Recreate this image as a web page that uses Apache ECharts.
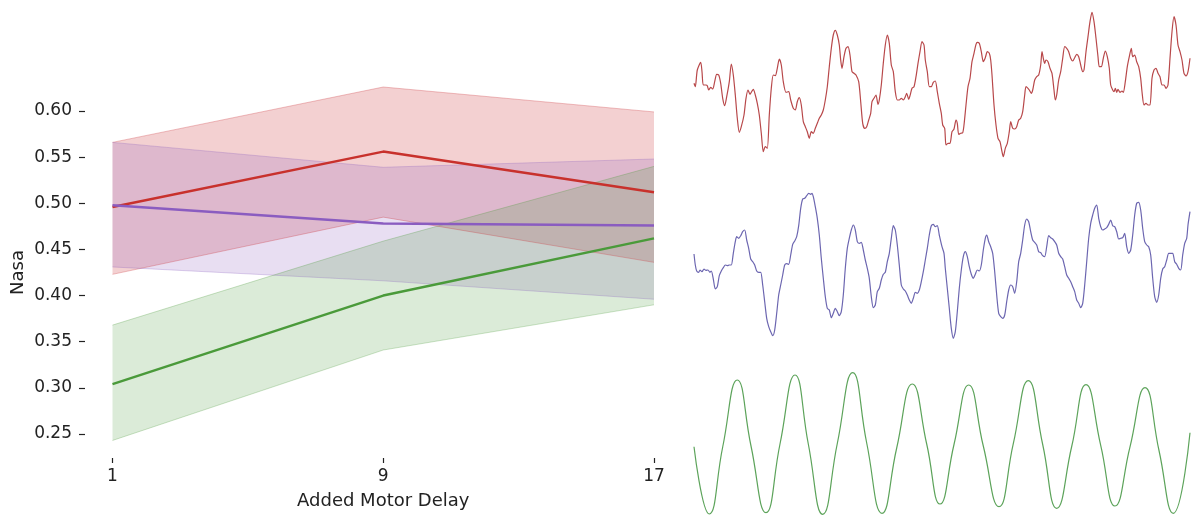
<!DOCTYPE html>
<html>
<head>
<meta charset="utf-8">
<script src="https://cdn.jsdelivr.net/npm/echarts@6.0.0/dist/echarts.min.js"></script>
<style>
html,body{margin:0;padding:0;background:#fff;}
#chart{width:1194px;height:515px;}
</style>
</head>
<body>
<div id="chart"></div>
<script>
// ---- Left panel: Nasa vs Added Motor Delay ----
const delays = ['1', '9', '17'];
const yTicks = [0.25, 0.30, 0.35, 0.40, 0.45, 0.50, 0.55, 0.60];

const redMean = [0.496, 0.556, 0.512];
const redLow = [0.423, 0.485, 0.436];
const redHigh = [0.566, 0.626, 0.599];

const purpleMean = [0.498, 0.478, 0.476];
const purpleLow = [0.431, 0.416, 0.396];
const purpleHigh = [0.566, 0.539, 0.548];

const greenMean = [0.304, 0.400, 0.462];
const greenLow = [0.243, 0.341, 0.390];
const greenHigh = [0.368, 0.459, 0.540];

// ---- Right panel: example traces [sample, amplitude] ----
const redTrace = [[0,-0.3],[1.3,-3.7],[3.3,13],[6.7,20.7],[8,11.3],[9.3,-2],[12,-2],[13.3,-2.7],[14.7,-7],[16.7,-4.3],[18.7,-6],[20.7,1.3],[22.7,8.7],[24.7,8],[26.7,-0.3],[28.7,-15.3],[30.7,-22.7],[32.7,-13.7],[35.3,1.3],[37.3,19],[39.3,8],[41.3,-12],[43.3,-35.3],[45.3,-49.3],[47.3,-43.7],[50,-32],[52,-15.3],[54,-7],[56,-11.3],[58,-8],[59.3,-6.3],[61.3,-12],[63.3,-20.3],[65.3,-32],[67.3,-50.3],[69.3,-68.7],[71.3,-63.7],[73.3,-65.3],[75.3,-32],[77.3,-5.3],[79.3,8],[81.3,7.3],[83.3,14.7],[85.3,24],[87.3,18],[89.3,1.3],[92,-9.3],[94.7,-8.7],[96.7,-17],[99.3,-25.3],[101.3,-27],[103.3,-18.7],[105.3,-14.7],[107.3,-22],[109.3,-38.7],[111.3,-43.7],[113.3,-48.7],[115.3,-55.3],[117.3,-48.7],[119.3,-50.3],[121.3,-45.3],[123.3,-40.3],[125.3,-35.3],[127.3,-32],[129.3,-27],[131.3,-17],[133.3,-3.7],[135.3,16.3],[137.3,34.7],[139.3,48],[141.3,52.7],[143.3,48],[145.3,38],[146.7,23],[148,14.7],[150,26.3],[152,34.7],[154,36.3],[156,28],[158,11.3],[160,9.7],[162,8],[164.7,1.3],[166.7,-18.7],[168.7,-40.3],[170.7,-45.3],[172.7,-43.7],[174.7,-37],[176.7,-30.3],[178,-18.7],[180,-15.3],[182,-12],[184,-21.3],[185.3,-17],[187.3,-2],[189.3,19.7],[191.3,38],[193.3,48],[195.3,39.7],[197.3,18],[199.3,11.3],[201.3,-8.7],[203.3,-17],[205.3,-17],[207.3,-15.3],[209.3,-17],[211.3,-13.7],[212.7,-10.3],[214.7,-16.3],[216,-12.7],[218,-5.3],[220,-3.7],[222,6.3],[224,19.7],[226,31.3],[228,41.3],[230,38],[231.3,23],[233.3,11.3],[235.3,-3.7],[237.3,-3.7],[239.3,0.7],[241.3,2],[243.3,-8.7],[245.3,-20.3],[247.3,-30.3],[248.7,-42],[250.7,-45.3],[252,-62],[254,-60.3],[256,-60.3],[258,-48.7],[260,-46],[262,-37],[263.3,-40.3],[264.7,-51.3],[266.7,-50.3],[268.7,-49.7],[270,-42],[272,-22],[274,-3.7],[276,4.7],[278,21.3],[280,29.7],[282,38.7],[283.3,40.7],[285.3,39.7],[287.3,31.3],[289.3,21.3],[291.3,25.3],[293.3,31.3],[295.3,29.7],[296.7,23],[298,8],[300,-22],[302,-42],[304,-55.3],[306,-58.7],[308,-68.7],[309.3,-73.7],[311.3,-65.3],[313.3,-60.3],[315.3,-48.7],[316.7,-38.7],[318.7,-45.3],[320.7,-46],[322.7,-43.7],[324.7,-37],[326.7,-35.3],[328.7,-28.7],[330.7,-12],[332,-3.7],[334,-5.3],[335.3,-7],[337.3,-10.3],[338.7,-7],[340.7,3],[342.7,6.3],[344.7,8],[346.7,18],[348,31.3],[349.3,24.7],[350.7,19.7],[352,23],[354,21.3],[356,14.7],[358,9.7],[360,-7],[361.3,-17],[362.7,-12],[364.7,3],[366.7,11.3],[368.7,24.7],[370.7,36.3],[372.7,34.7],[374.7,31.3],[376.7,24.7],[378.7,22],[380.7,25.3],[382.7,28.7],[384.7,26.3],[386.7,18],[388.7,11.3],[390,13],[392,31.3],[394,46.3],[396,61.3],[398,70.7],[400,61.3],[402,44.7],[404,26.3],[405.3,16.3],[407.3,16.3],[409.3,24.7],[411.3,32],[413.3,26.3],[415.3,14.7],[416.7,-2],[418.7,-7],[420,-8.7],[421.3,-5.3],[422.7,-9.3],[424,-6.3],[426,-9.3],[428,-8],[429.3,-9.3],[431.3,1.3],[433.3,16.3],[435.3,26.3],[437.3,34.7],[438.7,26.3],[440.7,28],[442.7,21.3],[444.7,16.3],[446.7,4.7],[448,-8.7],[450,-22],[452,-20.3],[454,-22],[456,-22],[458,4.7],[460,13],[462,14.7],[464,9.7],[466,6.3],[468,-2],[470,-2],[472,-5.3],[474,-2],[476,24.7],[478,51.3],[480,66.3],[482,58],[484,38],[486,31.3],[488,23],[490,9.7],[492,7],[494,11.3],[496,24.7]];

const purpleTrace = [[0,11],[1.3,0],[2.7,-6],[4.7,-7.3],[6,-5],[8,-6.7],[10,-4],[12,-5.3],[14,-5],[16,-7.3],[17.3,-6],[19.3,-14],[21.3,-24],[23.3,-21.7],[25.3,-10.7],[27.3,-6],[29.3,-2.7],[31.3,0],[33.3,-0.7],[35.3,0],[37.3,0],[39.3,11.7],[41.3,23.3],[42.7,28.3],[44.7,26.7],[46.7,29.3],[48.7,33.3],[50.7,35],[52.7,25],[54.7,16.7],[56.7,6],[58.7,3.3],[60.7,0],[62.7,-6],[64.7,-7.3],[66.7,-7.3],[68.7,-20],[70.7,-36.7],[72.7,-53.3],[74.7,-61.7],[76.7,-66.7],[78.7,-70.7],[80.7,-65],[82.7,-48.3],[84.7,-30],[86.7,-20],[88.7,-10],[90.7,0],[92.7,1.3],[94.7,0.7],[96.7,10],[98.7,20.7],[100.7,24],[102.7,28.3],[104.7,39.3],[106.7,56.7],[108.7,66],[110.7,66.7],[112.7,69.3],[114.7,71.7],[116.7,70.7],[118,71.7],[119.3,68.3],[121.3,58.3],[123.3,46.7],[125.3,30],[127.3,6.7],[129.3,-13.3],[131.3,-31.7],[133.3,-43.3],[135.3,-45],[137.3,-52.7],[139.3,-48.3],[141.3,-43.3],[143.3,-46.7],[145.3,-50.7],[147.3,-46.7],[149.3,-30],[151.3,-3.3],[153.3,16.7],[155.3,26.7],[157.3,35],[159.3,40],[161.3,35],[163.3,23.3],[165.3,21.7],[167.3,22.7],[169.3,15],[171.3,5],[173.3,-3.3],[175.3,-13.3],[177.3,-31.7],[179.3,-42.7],[181.3,-40],[183.3,-26.7],[185.3,-23.3],[187.3,-15],[189.3,-9.3],[191.3,-7.3],[193.3,3.3],[195.3,11.7],[197.3,26.7],[199.3,39.3],[201.3,35],[203.3,20],[205.3,0],[207.3,-20],[209.3,-24],[211.3,-26],[213.3,-30],[215.3,-35],[217.3,-38.3],[219.3,-33.3],[221.3,-27.3],[223.3,-28.3],[225.3,-25],[227.3,-16.7],[229.3,-6.7],[231.3,5],[233.3,16.7],[235.3,30],[237.3,39.3],[239.3,40.7],[241.3,38.3],[243.3,39.3],[245.3,30],[248,18.3],[250,11.7],[251.3,-3.3],[253.3,-23.3],[255.3,-43.3],[257.3,-63.3],[259.3,-73.3],[261.3,-66.7],[263.3,-46.7],[265.3,-23.3],[267.3,-5],[269.3,8.3],[271.3,13.3],[273.3,8.3],[275.3,-1.7],[277.3,-9.3],[279.3,-13.3],[281.3,-9.3],[283.3,-5],[285.3,-6],[287.3,0],[289.3,15],[291.3,26.7],[292.7,30],[294.7,23.3],[296.7,18.3],[298.7,11.7],[300.7,-6.7],[302.7,-30],[304.7,-48.3],[306.7,-51.7],[308.7,-53.3],[310.7,-50],[312.7,-36.7],[314.7,-25],[316.7,-20],[318.7,-21.7],[320.7,-28.3],[322.7,-16.7],[324.7,3.3],[326.7,11.7],[328.7,25],[330.7,40],[332.7,46],[334.7,43.3],[336.7,33.3],[338.7,25],[340.7,22.7],[342.7,20],[344.7,13.3],[346.7,12.3],[348.7,9.3],[350.7,8.3],[352.7,18.3],[354.7,29.3],[356.7,27.3],[358.7,26],[360.7,23.3],[362.7,20],[364.7,11.7],[366.7,8.3],[368.7,6],[370.7,-1.7],[372.7,-10],[374.7,-13.3],[376.7,-16.7],[378.7,-21.7],[380.7,-26.7],[382.7,-35],[384.7,-38.3],[386.7,-42.7],[388.7,-38.3],[390.7,-20],[392.7,3.3],[394.7,26.7],[396.7,41.7],[398.7,50],[400.7,56.7],[402.7,60],[404.7,46.7],[406.7,38.3],[408.7,35],[410.7,36],[412.7,37.3],[414.7,40.7],[416.7,45],[418.7,39.3],[420.7,38.3],[422.7,33.3],[424.7,26],[426.7,26.7],[428.7,27.3],[430.7,31.7],[432.7,18.3],[434.7,11.7],[436.7,15],[438.7,30],[440.7,50],[442.7,61.7],[444.7,62.7],[446.7,55],[448.7,36.7],[450.7,23.3],[452.7,20],[454.7,18.3],[456.7,10],[458.7,-13.3],[460.7,-31.7],[462.7,-37.3],[464.7,-30],[466.7,-13.3],[468.7,-4],[470.7,-1.7],[472.7,5],[474.7,11.7],[476.7,11.7],[478.7,11.7],[480.7,3.3],[482.7,0.7],[484.7,-3.3],[486.7,-5],[488.7,10],[490.7,21.7],[492.7,26.7],[494,40],[496,53.3]];

const greenTrace = [[0,-3.7],[15.3,-71],[28.7,-4],[43.3,63],[57,-3],[72,-69.7],[86,-1],[101,68],[114.3,-1],[128.7,-71.3],[143.3,-0.5],[158.7,70.3],[172.7,0],[188,-70.3],[202.7,-5],[218.3,59],[232.7,-1],[246,-61],[260,-1.5],[274.7,58],[289.3,-3],[305,-63.7],[319.3,-0.7],[334.3,62.3],[348.7,-1.5],[362.7,-65.3],[377.7,-3.5],[392,58.3],[406.7,-2.3],[421,-63],[436,-3.8],[451,55.3],[465,-7.5],[479.3,-70.3],[496,10.3]];

const FONT = 'DejaVu Sans';
const TXT = '#222222';

function diff(a, b) { return a.map((v, i) => +(v - b[i]).toFixed(4)); }

function band(name, low, high, rgb, alpha) {
  const edge = 'rgba(' + rgb + ',' + (alpha + 0.08) + ')';
  return [
    { type: 'line', name: name + 'Low', xAxisIndex: 0, yAxisIndex: 0, stack: name, data: low,
      symbol: 'none', clip: false, silent: true, z: 1,
      lineStyle: { color: edge, width: 1 } },
    { type: 'line', name: name + 'High', xAxisIndex: 0, yAxisIndex: 0, stack: name, data: diff(high, low),
      symbol: 'none', clip: false, silent: true, z: 1,
      lineStyle: { color: edge, width: 1 },
      areaStyle: { color: 'rgba(' + rgb + ',' + alpha + ')', opacity: 1 } }
  ];
}
function meanLine(data, color) {
  return { type: 'line', xAxisIndex: 0, yAxisIndex: 0, data: data, symbol: 'none', clip: false, z: 3,
    lineStyle: { color: color, width: 2.5 } };
}
function trace(idx, data, color, smooth) {
  return { type: 'line', xAxisIndex: idx, yAxisIndex: idx, data: data, symbol: 'none', clip: false,
    smooth: smooth, lineStyle: { color: color, width: 1.2 } };
}
function hiddenX(idx) { return { type: 'value', gridIndex: idx, min: 0, max: 496, show: false }; }
function hiddenY(idx, mn, mx) { return { type: 'value', gridIndex: idx, min: mn, max: mx, show: false }; }

const chart = echarts.init(document.getElementById('chart'), null, { renderer: 'canvas' });
chart.setOption({
  animation: false,
  backgroundColor: '#ffffff',
  textStyle: { fontFamily: FONT },
  grid: [
    { left: 112.5, right: 540, top: 111, bottom: 81 },
    { left: 694, width: 496, top: 0, height: 170 },
    { left: 694, width: 496, top: 175, height: 180 },
    { left: 694, width: 496, top: 355, height: 160 }
  ],
  xAxis: [
    { type: 'category', gridIndex: 0, data: delays, boundaryGap: false, offset: 24,
      axisLine: { show: false },
      axisTick: { show: true, length: 5, lineStyle: { color: TXT, width: 1.2 } },
      axisLabel: { color: TXT, fontSize: 17, fontFamily: FONT, margin: 10 },
      splitLine: { show: false },
      name: 'Added Motor Delay', nameLocation: 'middle', nameGap: 34,
      nameTextStyle: { color: TXT, fontSize: 18, fontFamily: FONT } },
    hiddenX(1), hiddenX(2), hiddenX(3)
  ],
  yAxis: [
    { type: 'value', gridIndex: 0, min: yTicks[0], max: yTicks[yTicks.length - 1], interval: 0.05, offset: 27.5,
      axisLine: { show: false },
      axisTick: { show: true, length: 6, lineStyle: { color: TXT, width: 1.2 } },
      axisLabel: { color: TXT, fontSize: 17, fontFamily: FONT, margin: 13, formatter: v => v.toFixed(2) },
      splitLine: { show: false },
      name: 'Nasa', nameLocation: 'middle', nameGap: 58,
      nameTextStyle: { color: TXT, fontSize: 18, fontFamily: FONT } },
    hiddenY(1, -87, 83), hiddenY(2, -90, 90), hiddenY(3, -72, 88)
  ],
  series: [
    ...band('red', redLow, redHigh, '206,60,64', 0.24),
    ...band('purple', purpleLow, purpleHigh, '138,92,192', 0.2),
    ...band('green', greenLow, greenHigh, '74,156,58', 0.2),
    meanLine(redMean, '#c8312c'),
    meanLine(purpleMean, '#8a5cc0'),
    meanLine(greenMean, '#4a9a3a'),
    trace(1, redTrace, '#b8484a', 0.25),
    trace(2, purpleTrace, '#6c66b0', 0.25),
    trace(3, greenTrace, '#5ca35a', 0.5)
  ]
});
</script>
</body>
</html>
